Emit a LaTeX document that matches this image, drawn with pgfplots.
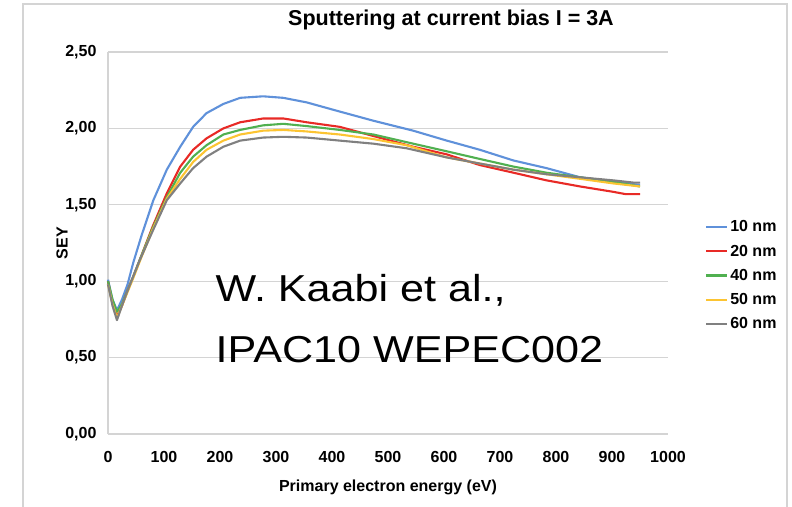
\documentclass[border=0pt]{standalone}
\usepackage{fontspec}
\setmainfont{Liberation Sans}
\newfontfamily\annfont[FakeStretch=1.15]{Liberation Sans}
\usepackage{pgfplots}
\pgfplotsset{compat=1.18}
\definecolor{c10}{RGB}{95,145,218}
\definecolor{c20}{RGB}{232,42,38}
\definecolor{c40}{RGB}{80,176,80}
\definecolor{c50}{RGB}{252,196,50}
\definecolor{c60}{RGB}{128,128,128}
\definecolor{gridc}{RGB}{212,212,212}
\newcommand{\lblfont}{\fontsize{16}{19}\selectfont\bfseries}

\begin{document}
\begin{tikzpicture}[x=1pt,y=1pt]
\path[use as bounding box] (0,0) rectangle (792,506);
\draw[gridc, line width=1.5] (23,-2) -- (23,502) -- (787,502) -- (787,-2);
\begin{axis}[
  at={(108pt,72pt)}, anchor=south west,
  scale only axis, width=560pt, height=382pt,
  xmin=0, xmax=1000, ymin=0, ymax=2.5,
  xtick={0,100,...,1000}, ytick={0,0.5,...,2.5},
  axis x line=bottom, axis y line=left,
  axis line style={gridc, line width=1.5pt, -},
  ymajorgrids, grid style={gridc, line width=1.2pt},
  major tick length=0pt,
  tick label style={font=\lblfont},
  /pgf/number format/assume math mode=true,
  y tick label style={xshift=-8pt, /pgf/number format/.cd, use comma, fixed, fixed zerofill, precision=2},
  x tick label style={yshift=-14pt, /pgf/number format/.cd, set thousands separator={}},
  clip=false,
  legend style={at={(1.066,0.415)}, anchor=west, draw=none, fill=none,
    font=\lblfont, row sep=7.5pt, inner xsep=0pt, cells={anchor=west}},
  legend image code/.code={\draw[#1] (0pt,0pt) -- (21pt,0pt);},
  every axis plot/.append style={line width=2.1pt, line join=round, no marks},
]
\addplot[c10] coordinates {
  (0,1.01) (8,0.88) (16,0.81) (25,0.88) (35,0.98) (45,1.12) (60,1.30) (81,1.53)
  (105,1.73) (129,1.88) (152,2.01) (176,2.10) (206,2.16) (236,2.20) (277,2.21)
  (313,2.20) (355,2.17) (414,2.11) (474,2.05) (545,1.985) (605,1.92) (664,1.86)
  (724,1.79) (783,1.74) (843,1.68) (902,1.65) (950,1.63)
};
\addlegendentry{10 nm}
\addplot[c20] coordinates {
  (0,1.00) (8,0.86) (16,0.77) (25,0.84) (35,0.94) (45,1.03) (60,1.17) (80,1.36)
  (105,1.575) (129,1.75) (152,1.86) (176,1.935) (206,2.00) (236,2.04) (277,2.065)
  (313,2.065) (355,2.04) (414,2.01) (474,1.95) (545,1.88) (605,1.83) (664,1.76)
  (724,1.71) (783,1.66) (843,1.62) (902,1.585) (924,1.57) (950,1.57)
};
\addlegendentry{20 nm}
\addplot[c40] coordinates {
  (0,1.00) (8,0.88) (16,0.80) (25,0.85) (35,0.94) (45,1.03) (60,1.17) (80,1.35)
  (105,1.55) (129,1.71) (152,1.815) (176,1.89) (206,1.96) (236,1.99) (277,2.02)
  (313,2.03) (355,2.015) (414,1.99) (474,1.96) (533,1.91) (605,1.85) (664,1.80)
  (724,1.75) (783,1.71) (843,1.68) (902,1.65) (950,1.62)
};
\addlegendentry{40 nm}
\addplot[c50] coordinates {
  (0,0.98) (8,0.85) (16,0.76) (25,0.84) (35,0.93) (45,1.02) (60,1.16) (80,1.34)
  (105,1.54) (129,1.67) (152,1.78) (176,1.86) (206,1.92) (236,1.96) (277,1.985)
  (313,1.99) (355,1.98) (414,1.96) (474,1.93) (533,1.89) (605,1.81) (664,1.77)
  (724,1.73) (783,1.70) (843,1.67) (902,1.64) (950,1.62)
};
\addlegendentry{50 nm}
\addplot[c60] coordinates {
  (0,0.98) (8,0.84) (16,0.745) (25,0.84) (33,0.92) (45,1.03) (57,1.14) (80,1.33)
  (105,1.53) (129,1.64) (152,1.74) (176,1.815) (206,1.88) (236,1.92) (277,1.94)
  (313,1.945) (355,1.94) (414,1.92) (474,1.90) (533,1.87) (605,1.81) (664,1.77)
  (724,1.73) (783,1.70) (843,1.68) (902,1.66) (939,1.645) (950,1.645)
};
\addlegendentry{60 nm}
\node[anchor=base west, font=\annfont\fontsize{37.5}{44}\selectfont] at (axis cs:186,0.864) {W. Kaabi et al.,};
\node[anchor=base west, font=\annfont\fontsize{37.5}{44}\selectfont] at (axis cs:186,0.465) {IPAC10 WEPEC002};
\end{axis}
\node[anchor=base, font=\fontsize{21.5}{24}\selectfont\bfseries] at (451,480) {Sputtering at current bias I = 3A};
\node[rotate=90, font=\lblfont] at (62,263) {SEY};
\node[font=\lblfont] at (388,19) {Primary electron energy (eV)};
\end{tikzpicture}
\end{document}
